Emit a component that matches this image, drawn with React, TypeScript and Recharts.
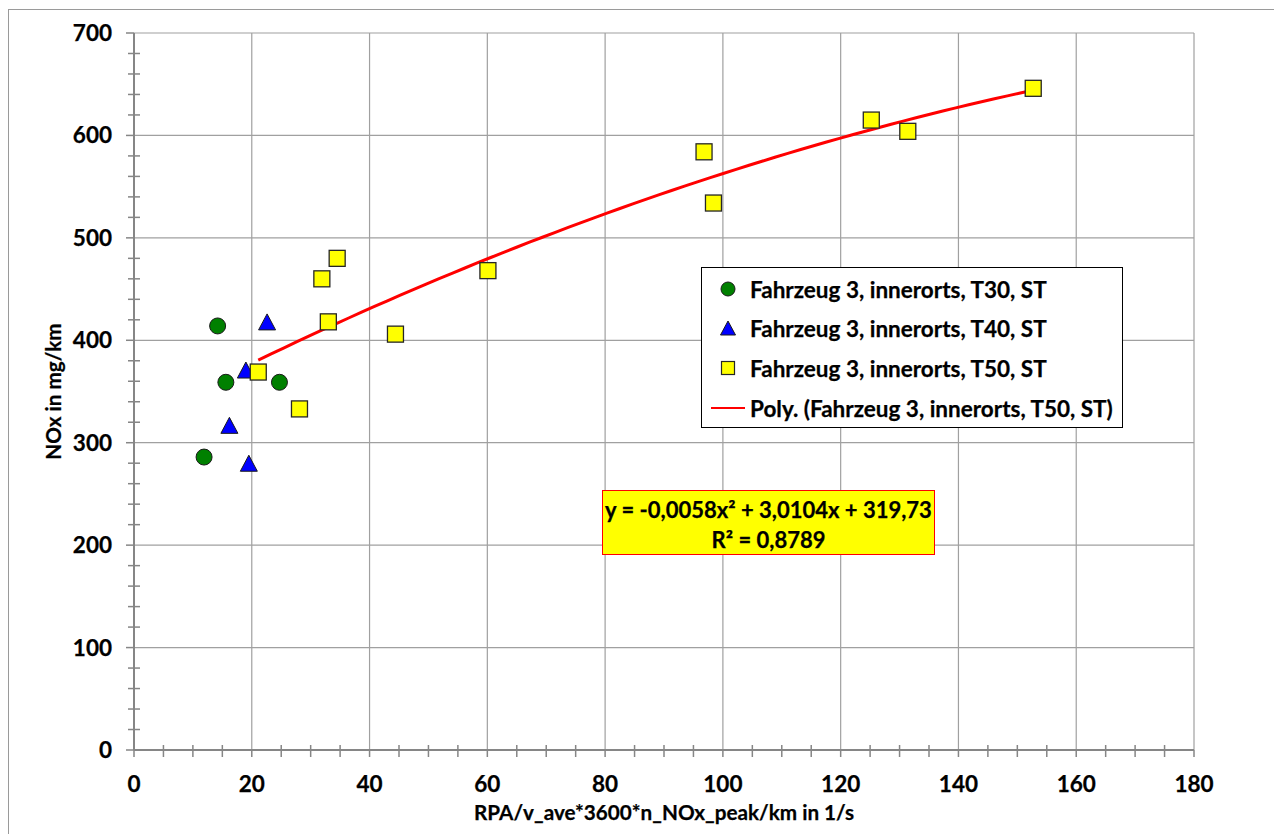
import React from 'react';
import { ComposedChart, Scatter, Line, XAxis, YAxis, CartesianGrid, Legend } from 'recharts';

const FONT = 'Lato, "Open Sans", "DejaVu Sans", sans-serif';

// Series names
const seriesNames = [
  'Fahrzeug 3, innerorts, T30, ST',
  'Fahrzeug 3, innerorts, T40, ST',
  'Fahrzeug 3, innerorts, T50, ST',
  'Poly. (Fahrzeug 3, innerorts, T50, ST)',
];

// T30 (green circles)
const t30X = [14.2, 15.6, 24.7, 11.9];
const t30Y = [414, 359, 359, 286];

// T40 (blue triangles)
const t40X = [22.6, 19.0, 16.2, 19.5];
const t40Y = [416, 369, 315, 278];

// T50 (yellow squares)
const t50X = [34.5, 31.9, 33.0, 44.4, 21.1, 28.1, 60.1, 96.8, 98.4, 125.2, 131.4, 152.7];
const t50Y = [480, 460, 418, 406, 369, 333, 468, 584, 534, 615, 604, 646];

// Polynomial trendline of T50 as printed on the chart: a*x^2 + b*x + c
const trendCoefficients = [-0.0058, 3.0104, 319.73];
const equationLine1 = 'y = -0,0058x² + 3,0104x + 319,73';
const equationLine2 = 'R² = 0,8789';

// Axis ticks
const xMajorTicks = [0, 20, 40, 60, 80, 100, 120, 140, 160, 180];
const yMajorTicks = [0, 100, 200, 300, 400, 500, 600, 700];
const xMinorStep = 5;
const yMinorStep = 20;

const xTitle = 'RPA/v_ave*3600*n_NOx_peak/km in 1/s';
const yTitle = 'NOx in mg/km';

const zip = (xs: number[], ys: number[]) => xs.map((x, i) => ({ x, y: ys[i] }));
const t30 = zip(t30X, t30Y);
const t40 = zip(t40X, t40Y);
const t50 = zip(t50X, t50Y);

const trendStart = Math.min(...t50X);
const trendEnd = Math.max(...t50X);
const trend: { x: number; y: number }[] = [];
for (let i = 0; i <= 60; i++) {
  const x = trendStart + ((trendEnd - trendStart) * i) / 60;
  const [a, b, c] = trendCoefficients;
  trend.push({ x, y: a * x * x + b * x + c });
}

const xTicksAll: number[] = [];
for (let v = 0; v <= 180; v += xMinorStep) xTicksAll.push(v);
const yTicksAll: number[] = [];
for (let v = 0; v <= 700; v += yMinorStep) yTicksAll.push(v);

const AXIS = '#868686';
const GRID = '#a0a0a0';
const tickFont: React.CSSProperties = {
  fontFamily: FONT,
  fontWeight: 700,
  fontSize: 22.5,
  fill: '#000',
  stroke: '#000',
  strokeWidth: 0.25,
};

const XTick = (props: any) => {
  const { x, y, payload } = props;
  const v = payload.value;
  const major = xMajorTicks.includes(v);
  return (
    <g>
      <line x1={x} x2={x} y1={major ? y : y - 5} y2={y + 7} stroke={AXIS} strokeWidth={1.5} />
      {major && (
        <text x={x} y={y + 42} textAnchor="middle" style={tickFont}>
          {v}
        </text>
      )}
    </g>
  );
};

const YTick = (props: any) => {
  const { x, y, payload } = props;
  const v = payload.value;
  const major = yMajorTicks.includes(v);
  return (
    <g>
      <line x1={major ? x - 8 : x - 6} x2={major ? x : x + 6} y1={y} y2={y} stroke={AXIS} strokeWidth={1.5} />
      {major && (
        <text x={x - 22} y={y + 8} textAnchor="end" style={tickFont}>
          {v}
        </text>
      )}
    </g>
  );
};

const Circle = (props: any) => {
  const { cx, cy } = props;
  if (cx == null || cy == null) return <g />;
  return <circle cx={cx} cy={cy} r={8} fill="#008000" stroke="#1a1a1a" strokeWidth={1} />;
};
const Triangle = (props: any) => {
  const { cx, cy } = props;
  if (cx == null || cy == null) return <g />;
  return (
    <polygon
      points={`${cx},${cy - 10} ${cx - 8.5},${cy + 6} ${cx + 8.5},${cy + 6}`}
      fill="#0000FF"
      stroke="#1a1a1a"
      strokeWidth={1}
    />
  );
};
const Square = (props: any) => {
  const { cx, cy } = props;
  if (cx == null || cy == null) return <g />;
  return <rect x={cx - 8} y={cy - 8} width={16} height={16} fill="#FFFF00" stroke="#262626" strokeWidth={1.3} />;
};

const LegendMarker = ({ i }: { i: number }) => {
  if (i === 0) return <circle cx={26} cy={15} r={7} fill="#008000" stroke="#1a1a1a" strokeWidth={1} />;
  if (i === 1) return <polygon points="26,7 18.5,21 33.5,21" fill="#0000FF" stroke="#1a1a1a" strokeWidth={1} />;
  if (i === 2) return <rect x={19.5} y={8.5} width={13} height={13} fill="#FFFF00" stroke="#262626" strokeWidth={1.2} />;
  return <line x1={9} x2={43} y1={15} y2={15} stroke="#FF0000" strokeWidth={2} />;
};

const LegendContent = () => (
  <div
    style={{
      width: 422,
      height: 161,
      boxSizing: 'border-box',
      border: '1px solid #000',
      background: '#fff',
      position: 'relative',
      fontFamily: FONT,
      fontWeight: 700,
      fontSize: 22.5,
      color: '#000',
      WebkitTextStroke: '0.25px #000',
    }}
  >
    {seriesNames.map((name, i) => (
      <div
        key={name}
        style={{
          position: 'absolute',
          left: 0,
          top: 21 + i * 39.7 - 15,
          height: 30,
          display: 'flex',
          alignItems: 'center',
          whiteSpace: 'nowrap',
        }}
      >
        <svg width={48} height={30} style={{ display: 'block' }}>
          <LegendMarker i={i} />
        </svg>
        <span>{name}</span>
      </div>
    ))}
  </div>
);

export default function App() {
  return (
    <div style={{ position: 'relative', width: 1274, height: 826 }}>
      <div
        style={{
          position: 'absolute',
          left: 0,
          top: 1,
          width: 1274,
          height: 826,
          borderLeft: '1.5px solid #9a9a9a',
          borderTop: '1.5px solid #9a9a9a',
          boxSizing: 'border-box',
        }}
      />
      <div style={{ position: 'absolute', left: 0, top: 0 }}>
        <ComposedChart width={1274} height={826} margin={{ top: 25, right: 88, left: 0, bottom: 0 }}>
          <CartesianGrid
            stroke={GRID}
            strokeWidth={1.2}
            verticalValues={xMajorTicks}
            horizontalValues={yMajorTicks}
          />
          <XAxis
            type="number"
            dataKey="x"
            domain={[0, 180]}
            ticks={xTicksAll}
            interval={0}
            height={84}
            tickSize={0}
            tickMargin={0}
            tickLine={false}
            tick={<XTick />}
            axisLine={{ stroke: AXIS, strokeWidth: 2 }}
            allowDataOverflow
            label={{
              value: xTitle,
              position: 'insideBottom',
              offset: 14,
              style: { fontFamily: FONT, fontWeight: 700, fontSize: 20.7, fill: '#000', stroke: '#000', strokeWidth: 0.25 },
            }}
          />
          <YAxis
            type="number"
            dataKey="y"
            domain={[0, 700]}
            ticks={yTicksAll}
            interval={0}
            width={126}
            tickSize={0}
            tickMargin={0}
            tickLine={false}
            tick={<YTick />}
            axisLine={{ stroke: AXIS, strokeWidth: 2 }}
            allowDataOverflow
            label={{
              value: yTitle,
              angle: -90,
              position: 'insideLeft',
              offset: 46,
              style: {
                fontFamily: FONT,
                fontWeight: 700,
                fontSize: 20.7,
                fill: '#000',
                stroke: '#000',
                strokeWidth: 0.25,
                textAnchor: 'middle',
              },
            }}
          />
          <Legend
            layout="vertical"
            align="center"
            verticalAlign="middle"
            content={<LegendContent />}
            wrapperStyle={{ position: 'absolute', left: 693, top: 259, width: 422, height: 161 }}
          />
          <Scatter name={seriesNames[0]} data={t30} shape={<Circle />} isAnimationActive={false} />
          <Scatter name={seriesNames[1]} data={t40} shape={<Triangle />} isAnimationActive={false} />
          <Scatter name={seriesNames[2]} data={t50} shape={<Square />} isAnimationActive={false} />
          <Line
            name={seriesNames[3]}
            data={trend}
            dataKey="y"
            type="linear"
            stroke="#FF0000"
            strokeWidth={3}
            dot={false}
            activeDot={false}
            isAnimationActive={false}
          />
        </ComposedChart>
      </div>
      <div
        style={{
          position: 'absolute',
          left: 594,
          top: 482,
          width: 333,
          height: 65,
          boxSizing: 'border-box',
          background: '#FFFF00',
          border: '1px solid #FF0000',
          fontFamily: FONT,
          fontWeight: 700,
          fontSize: 22,
          lineHeight: '30px',
          textAlign: 'center',
          paddingTop: 4,
          color: '#000',
          whiteSpace: 'nowrap',
          WebkitTextStroke: '0.25px #000',
        }}
      >
        <div>{equationLine1}</div>
        <div>{equationLine2}</div>
      </div>
    </div>
  );
}
